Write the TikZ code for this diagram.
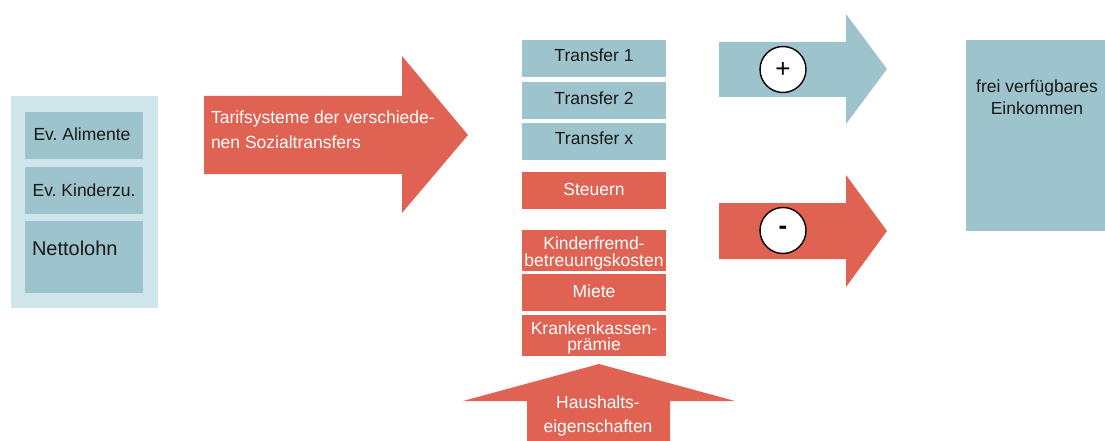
\documentclass[tikz,border=0pt]{standalone}
\usepackage{fontspec}
\setmainfont{Liberation Sans}
\frenchspacing
\definecolor{tblue}{RGB}{157,195,204}
\definecolor{tlight}{RGB}{208,229,234}
\definecolor{tred}{RGB}{224,98,82}
\definecolor{tdark}{RGB}{25,25,25}
\tikzset{
  txt/.style={inner sep=0pt,outer sep=0pt,font=\fontsize{17.5}{17.5}\selectfont,anchor=base},
  dtxt/.style={txt,text=tdark},
  wtxt/.style={txt,text=white},
  sign/.style={circle,draw=black,line width=1.4pt,fill=white,minimum size=46pt,inner sep=0pt,font=\fontsize{26}{26}\selectfont}
}
\begin{document}
\begin{tikzpicture}[x=1pt,y=-1pt]
\useasboundingbox (0,0) rectangle (1105,441);
% left panel
\fill[tlight] (11,96) rectangle (158,308);
\fill[tblue] (25,112) rectangle (143,159);
\fill[tblue] (25,167) rectangle (143,214);
\fill[tblue] (25,221) rectangle (143,293);
\node[dtxt] (ali) at (82,141) {Ev. Alimente};
\node[dtxt] (kzu) at (84,196) {Ev. Kinderzu.};
\node[dtxt,anchor=base west,font=\fontsize{20}{20}\selectfont] (netto) at (32,255) {Nettolohn};
% big red arrow
\fill[tred] (204,96) -- (402,96) -- (402,56) -- (468,135) -- (402,213) -- (402,174) -- (204,174) -- cycle;
\node[wtxt,anchor=base west] (tarif1) at (211,124) {Tarifsysteme der verschiede-};
\node[wtxt,anchor=base west] (tarif2) at (211,149) {nen Sozialtransfers};
% middle column
\fill[tblue] (522,40) rectangle (666,77);
\fill[tblue] (522,82) rectangle (666,119);
\fill[tblue] (522,123) rectangle (666,160);
\fill[tred] (522,172) rectangle (666,209);
\fill[tred] (522,230) rectangle (666,271);
\fill[tred] (522,274) rectangle (666,311);
\fill[tred] (522,315) rectangle (666,356);
\node[dtxt] (t1) at (594,62) {Transfer 1};
\node[dtxt] (t2) at (594,105) {Transfer 2};
\node[dtxt] (tx) at (594,145) {Transfer x};
\node[wtxt] (st) at (594,195) {Steuern};
\node[wtxt] (kf1) at (594,249) {Kinderfremd-};
\node[wtxt] (kf2) at (594,266.5) {betreuungskosten};
\node[wtxt] (mi) at (594,297) {Miete};
\node[wtxt] (kk1) at (594,334) {Krankenkassen-};
\node[wtxt] (kk2) at (594,350.5) {prämie};
% Haushalts arrow
\fill[tred] (527,445) -- (527,401) -- (463,401) -- (599,364) -- (735,401) -- (670,401) -- (670,445) -- cycle;
\node[wtxt] (hh1) at (598,408) {Haushalts-};
\node[wtxt] (hh2) at (598,432) {eigenschaften};
% plus arrow
\fill[tblue] (719,42) -- (846,42) -- (846,14) -- (887,69) -- (846,124) -- (846,97) -- (719,97) -- cycle;
\node[sign] (plus) at (783,69.5) {+};
% minus arrow
\fill[tred] (719,203) -- (846,203) -- (846,175) -- (887,231) -- (846,287) -- (846,259) -- (719,259) -- cycle;
\node[sign] (minus) at (783,230.5) {\textbf{-}};
% result box
\fill[tblue] (966,40) rectangle (1105,231);
\node[dtxt] (frei1) at (1037,93) {frei verfügbares};
\node[dtxt] (frei2) at (1037,114) {Einkommen};
\end{tikzpicture}
\end{document}
